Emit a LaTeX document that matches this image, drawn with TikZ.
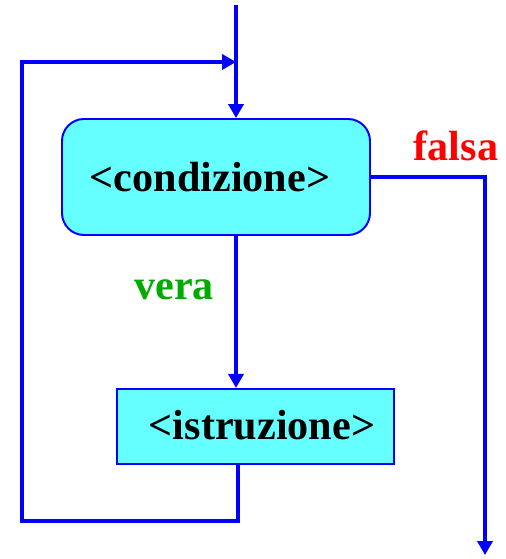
\documentclass[tikz,border=0pt]{standalone}
\usepackage{fontspec}
\setmainfont{Liberation Serif}
\usetikzlibrary{arrows.meta}

\definecolor{boxFill}{RGB}{102,255,255}
\definecolor{lineBlue}{RGB}{0,0,255}
\definecolor{veraGreen}{RGB}{0,170,0}
\definecolor{falsaRed}{RGB}{255,0,0}

\tikzstyle{condBox} = [draw=lineBlue, fill=boxFill, line width=1.4pt,
    rectangle, rounded corners=0.55cm, minimum width=7.7cm, minimum height=2.9cm]
\tikzstyle{instrBox} = [draw=lineBlue, fill=boxFill, line width=1.4pt,
    rectangle, minimum width=6.925cm, minimum height=1.875cm]
\tikzstyle{bigText} = [font=\fontsize{30}{36}\selectfont\bfseries]
\tikzstyle{flow} = [draw=lineBlue, line width=2.3pt,
    -{Triangle[length=0.35cm, width=0.38cm]}]
\tikzstyle{flowPlain} = [draw=lineBlue, line width=2.3pt]

\begin{document}
\begin{tikzpicture}

\useasboundingbox (0,0) rectangle (12.65,-13.975);

\node[condBox] (Condizione) at (5.4,-4.425) {};
\node[bigText] (CondText) at (5.25,-4.425) {<condizione>};
\node[instrBox] (Istruzione) at (6.39,-10.66) {};
\node[bigText] (IstrText) at (6.55,-10.63) {<istruzione>};

\node[bigText, text=veraGreen] (Vera) at (4.35,-7.25) {vera};
\node[bigText, text=falsaRed] (Falsa) at (11.4,-3.65) {falsa};

\coordinate (Start) at (5.9,-0.125);
\coordinate (Merge) at (5.9,-1.55);
\coordinate (LoopBL) at (0.55,-13.025);
\coordinate (Exit) at (12.125,-13.875);

\draw[flowPlain] (Start) -- (Merge);
\draw[flow] (Merge) -- (Condizione.north -| Start);
\draw[flow] (Condizione.south -| Start) -- (Istruzione.north -| Start);
\draw[flow] (Istruzione.south -| 5.95,0) |- (LoopBL) |- (Merge);
\draw[flow] (Condizione.east) -| (Exit);
\end{tikzpicture}
\end{document}
